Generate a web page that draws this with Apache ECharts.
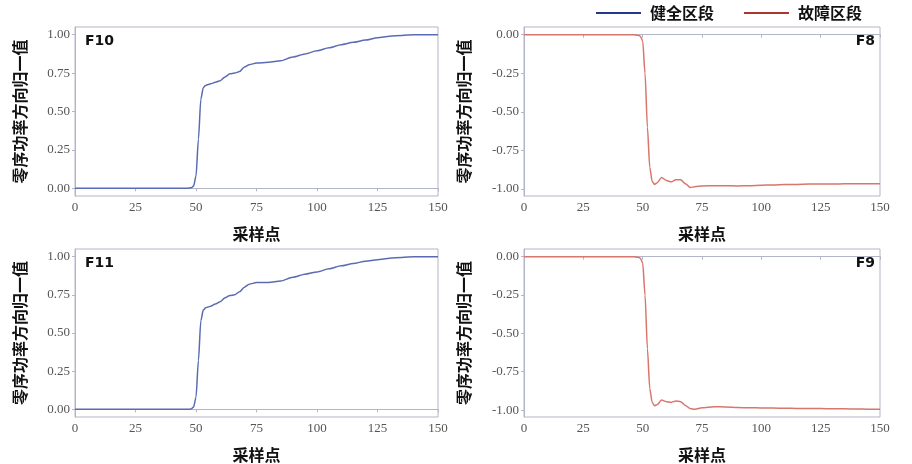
<!DOCTYPE html>
<html>
<head>
<meta charset="utf-8">
<script src="https://cdn.jsdelivr.net/npm/echarts@6/dist/echarts.min.js"></script>
<style>
  html, body { margin: 0; padding: 0; background: #fff; }
  #main { width: 912px; height: 464px; }
</style>
</head>
<body>
<div id="main"></div>
<script>
// 采样点 (shared x positions of the read-off points)
var sampleX = [0, 46, 48, 49, 50, 51, 52, 53, 54, 55, 56, 58, 60, 62, 64, 66, 68, 70, 72, 75,
               80, 85, 90, 95, 100, 105, 110, 115, 120, 125, 130, 135, 140, 145, 150]

// 健全区段
var f10 = [0, 0, 0.003, 0.015, 0.08, 0.32, 0.58, 0.655, 0.67, 0.675, 0.68, 0.69, 0.70, 0.725, 0.745, 0.75, 0.76, 0.79, 0.805, 0.815,
           0.82, 0.83, 0.855, 0.875, 0.895, 0.915, 0.935, 0.95, 0.965, 0.98, 0.99, 0.995, 1.0, 1.0, 1.0]
var f11 = [0, 0, 0.003, 0.015, 0.08, 0.32, 0.58, 0.65, 0.665, 0.67, 0.675, 0.69, 0.705, 0.73, 0.745, 0.75, 0.77, 0.80, 0.82, 0.83,
           0.83, 0.84, 0.865, 0.885, 0.90, 0.92, 0.94, 0.955, 0.97, 0.98, 0.99, 0.995, 1.0, 1.0, 1.0]

// 故障区段
var f8 = [0, 0, -0.003, -0.01, -0.04, -0.25, -0.60, -0.86, -0.95, -0.97, -0.96, -0.925, -0.945, -0.953, -0.94, -0.94, -0.965, -0.99, -0.985, -0.98,
          -0.978, -0.978, -0.98, -0.978, -0.975, -0.973, -0.97, -0.97, -0.968, -0.968, -0.967, -0.966, -0.966, -0.965, -0.965]
var f9 = [0, 0, -0.003, -0.01, -0.04, -0.25, -0.60, -0.86, -0.95, -0.972, -0.965, -0.935, -0.945, -0.95, -0.94, -0.945, -0.97, -0.99, -0.995, -0.985,
          -0.978, -0.98, -0.983, -0.985, -0.986, -0.987, -0.988, -0.989, -0.99, -0.99, -0.991, -0.992, -0.993, -0.994, -0.995]

var xTicks = [0, 25, 50, 75, 100, 125, 150]
var posTicks = [0, 0.25, 0.5, 0.75, 1.0]
var negTicks = [-1.0, -0.75, -0.5, -0.25, 0]

var panelNames = ['F10', 'F8', 'F11', 'F9']

var blue = '#5b6bb3'
var red = '#d8766e'
var spine = '#b3b5c9'
var yName = '零序功率方向归一值'
var cjk = '"Noto Sans CJK SC", sans-serif'
var serif = '"Liberation Serif", "DejaVu Serif", serif'

function pairs(ys) {
    return sampleX.map(function (x, i) { return [x, ys[i]] })
}

var grids = [
    { left: 75, top: 27, width: 363, height: 169 },
    { left: 524, top: 27, width: 356, height: 169 },
    { left: 75, top: 249, width: 363, height: 169 },
    { left: 524, top: 249, width: 356, height: 169 }
].map(function (g) {
    g.show = true
    g.borderColor = spine
    g.borderWidth = 1
    g.backgroundColor = '#fff'
    return g
})

var xAxes = grids.map(function (g, i) {
    return {
        type: 'value', gridIndex: i, min: 0, max: 150, interval: 25,
        name: '采样点', nameLocation: 'middle', nameGap: 30,
        nameTextStyle: { fontFamily: cjk, fontSize: 16, fontWeight: 'bold', color: '#111' },
        axisLine: { show: true, lineStyle: { color: spine } },
        axisTick: { show: true, length: 3, lineStyle: { color: spine } },
        axisLabel: { fontFamily: serif, fontSize: 13, color: '#555', margin: 5 },
        splitLine: { show: false }
    }
})

var yAxes = grids.map(function (g, i) {
    var neg = (i % 2 === 1)
    var ticks = neg ? negTicks : posTicks
    return {
        type: 'value', gridIndex: i,
        min: neg ? -1.045 : -0.05, max: neg ? 0.05 : 1.05,
        name: yName, nameLocation: 'middle', nameGap: neg ? 52 : 47,
        nameTextStyle: { fontFamily: cjk, fontSize: 16, fontWeight: 'bold', color: '#111' },
        axisLine: { show: true, lineStyle: { color: spine } },
        axisTick: { show: true, length: 3, customValues: ticks, lineStyle: { color: spine } },
        axisLabel: {
            customValues: ticks, fontFamily: serif, fontSize: 13, color: '#555', margin: 5,
            formatter: function (v) { return v.toFixed(2) }
        },
        splitLine: { show: false }
    }
})

function line(name, idx, ys, color) {
    return {
        name: name, type: 'line', xAxisIndex: idx, yAxisIndex: idx,
        data: pairs(ys), showSymbol: false, smooth: 0.25, smoothMonotone: 'x',
        lineStyle: { color: color, width: 1.5 }, itemStyle: { color: color },
        emphasis: { disabled: true }
    }
}

var labels = panelNames.map(function (n, i) {
    var g = grids[i]
    var right = (i % 2 === 1)
    return {
        type: 'text',
        left: right ? undefined : g.left + 10,
        right: right ? 912 - (g.left + g.width) + 5 : undefined,
        top: g.top + 7,
        style: { text: n, font: 'bold 14px "DejaVu Sans", sans-serif', fill: '#111' }
    }
})

var myChart = echarts.init(document.getElementById('main'))

var options = {
    animation: false,
    backgroundColor: '#fff',
    legend: {
        right: 45, top: 0,
        itemWidth: 45, itemHeight: 12, itemGap: 30,
        textStyle: { fontFamily: cjk, fontSize: 16, fontWeight: 'bold', color: '#111', padding: [0, 0, 0, 4] },
        data: [
            { name: '健全区段', icon: 'path://M0,5L45,5L45,7L0,7Z', itemStyle: { color: '#24388a' } },
            { name: '故障区段', icon: 'path://M0,5L45,5L45,7L0,7Z', itemStyle: { color: '#a8382f' } }
        ]
    },
    grid: grids,
    xAxis: xAxes,
    yAxis: yAxes,
    graphic: labels,
    series: [
        line('健全区段', 0, f10, blue),
        line('故障区段', 1, f8, red),
        line('健全区段', 2, f11, blue),
        line('故障区段', 3, f9, red)
    ]
}

myChart.setOption(options)
</script>
</body>
</html>
